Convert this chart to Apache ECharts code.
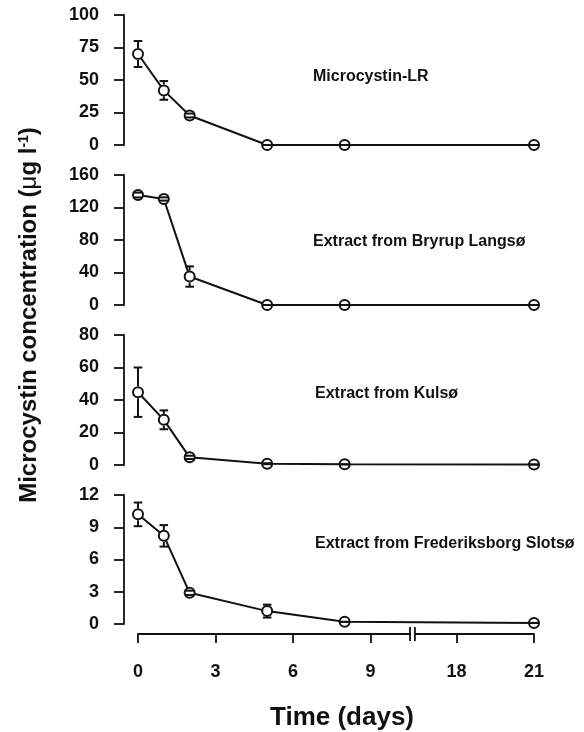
<!DOCTYPE html>
<html>
<head>
<meta charset="utf-8">
<script src="https://cdn.jsdelivr.net/npm/echarts@6.0.0/dist/echarts.min.js"></script>
<style>
  html, body { margin: 0; padding: 0; background: #fff; }
  #chart { width: 584px; height: 732px; }
</style>
</head>
<body>
<div id="chart"></div>
<script>
// sampling days
const days = [0, 1, 2, 5, 8, 21];
// tick labels of the time axis
const xTicks = [0, 3, 6, 9, 18, 21];
// the time axis is cut between these two days
const breakFrom = 10.53;
const breakTo = 16.39;
const breakGap = 0.19;

const panelNames = [
  'Microcystin-LR',
  'Extract from Bryrup Langsø',
  'Extract from Kulsø',
  'Extract from Frederiksborg Slotsø',
];

// means and error bars (µg l-1)
const mcLR = [70, 42, 22.7, 0, 0, 0];
const mcLRErr = [10, 7.2, 1.5, 0, 0, 0];
const bryrup = [135.4, 130.5, 35, 0, 0, 0];
const bryrupErr = [3, 2, 12.5, 0, 0, 0];
const kulso = [44.8, 27.8, 4.7, 0.8, 0.4, 0.3];
const kulsoErr = [15.2, 5.8, 1, 0.3, 0, 0];
const slotso = [10.2, 8.2, 2.9, 1.2, 0.2, 0.1];
const slotsoErr = [1.1, 1, 0.2, 0.6, 0, 0];

// y axis ticks
const yMax = [100, 160, 80, 12];
const yStep = [25, 40, 20, 3];

const values = [mcLR, bryrup, kulso, slotso];
const errors = [mcLRErr, bryrupErr, kulsoErr, slotsoErr];

// map a day onto the compressed (broken) axis
function pos(d) {
  return d <= breakFrom ? d : d - breakTo + breakFrom + breakGap;
}
const xMax = pos(21);

const ink = '#111';
const font = '"Liberation Sans", Arial, sans-serif';
const gridLeft = 138;
const gridWidth = 396;
const gridTops = [15, 175, 335, 495];
const gridHeight = 130;
const xOffset = 10;
const labelPos = [[313, 77], [313, 242], [315, 394], [315, 544]];

const chart = echarts.init(document.getElementById('chart'));

const option = {
  animation: false,
  backgroundColor: '#fff',
  grid: gridTops.map((top) => ({
    left: gridLeft,
    top,
    width: gridWidth,
    height: gridHeight,
  })),
  xAxis: gridTops.map((t, i) => {
    const last = i === gridTops.length - 1;
    return {
      type: 'value',
      gridIndex: i,
      min: 0,
      max: xMax,
      show: last,
      offset: xOffset,
      splitLine: { show: false },
      axisLine: { show: true, onZero: false, lineStyle: { color: ink, width: 1.8 } },
      axisTick: {
        show: true,
        length: 9,
        customValues: xTicks.map(pos),
        lineStyle: { color: ink, width: 1.8 },
      },
      axisLabel: {
        customValues: xTicks.map(pos),
        margin: 29,
        color: ink,
        fontFamily: font,
        fontWeight: 'bold',
        fontSize: 18,
        formatter(v) {
          const k = xTicks.findIndex((d) => Math.abs(pos(d) - v) < 1e-6);
          return k < 0 ? '' : String(xTicks[k]);
        },
      },
      name: last ? 'Time (days)' : '',
      nameLocation: 'middle',
      nameGap: 71,
      nameTextStyle: {
        color: ink,
        fontFamily: font,
        fontWeight: 'bold',
        fontSize: 26,
        padding: [0, 0, 0, 12],
      },
    };
  }),
  yAxis: gridTops.map((t, i) => ({
    type: 'value',
    gridIndex: i,
    min: 0,
    max: yMax[i],
    interval: yStep[i],
    offset: 14,
    splitLine: { show: false },
    axisLine: { show: true, onZero: false, lineStyle: { color: ink, width: 1.8 } },
    axisTick: { show: true, length: 10, lineStyle: { color: ink, width: 1.8 } },
    axisLabel: {
      margin: 25,
      color: ink,
      fontFamily: font,
      fontWeight: 'bold',
      fontSize: 18,
    },
  })),
  series: [],
  graphic: [],
};

values.forEach((vals, i) => {
  option.series.push({
    type: 'line',
    xAxisIndex: i,
    yAxisIndex: i,
    clip: false,
    z: 2,
    symbol: 'circle',
    symbolSize: 10,
    lineStyle: { color: ink, width: 2 },
    itemStyle: { color: '#fff', borderColor: ink, borderWidth: 2 },
    data: days.map((d, j) => [pos(d), vals[j]]),
  });
  option.series.push({
    type: 'custom',
    xAxisIndex: i,
    yAxisIndex: i,
    clip: false,
    z: 3,
    data: days.map((d, j) => [pos(d), vals[j], errors[i][j]]),
    renderItem(params, api) {
      const x = api.value(0);
      const y = api.value(1);
      const e = api.value(2);
      const c = api.coord([x, y]);
      const top = api.coord([x, y + e])[1];
      const bot = api.coord([x, y - e])[1];
      const r = 6;
      const cap = 4.3;
      const style = { stroke: ink, lineWidth: 2 };
      const kids = [];
      if (c[1] - top > r) {
        kids.push({ type: 'line', shape: { x1: c[0], y1: top, x2: c[0], y2: c[1] - r }, style });
      }
      if (bot - c[1] > r) {
        kids.push({ type: 'line', shape: { x1: c[0], y1: c[1] + r, x2: c[0], y2: bot }, style });
      }
      kids.push({ type: 'line', shape: { x1: c[0] - cap, y1: top, x2: c[0] + cap, y2: top }, style });
      kids.push({ type: 'line', shape: { x1: c[0] - cap, y1: bot, x2: c[0] + cap, y2: bot }, style });
      return { type: 'group', children: kids };
    },
  });
  option.graphic.push({
    id: 'label' + i,
    type: 'text',
    x: labelPos[i][0],
    y: labelPos[i][1],
    style: {
      text: panelNames[i],
      fill: ink,
      font: 'bold 16px ' + font,
      textVerticalAlign: 'middle',
    },
  });
});

option.graphic.push({
  id: 'ytitle',
  type: 'text',
  x: 29,
  y: 315,
  rotation: Math.PI / 2,
  style: {
    text: '{a|Microcystin concentration (}{m|μ}{a|g l}{s|-1}{a|)}',
    fill: ink,
    align: 'center',
    verticalAlign: 'middle',
    rich: {
      a: { fontFamily: font, fontWeight: 'bold', fontSize: 24, fill: ink },
      m: { fontFamily: font, fontSize: 24, fill: ink },
      s: { fontFamily: font, fontWeight: 'bold', fontSize: 14, fill: ink, verticalAlign: 'top' },
    },
  },
});

chart.setOption(option);

// break mark on the time axis
const axisY = chart.convertToPixel({ yAxisIndex: 3 }, 0) + xOffset;
const bx1 = chart.convertToPixel({ xAxisIndex: 3 }, breakFrom);
const bx2 = chart.convertToPixel({ xAxisIndex: 3 }, breakFrom + breakGap);
chart.setOption({
  graphic: [
    {
      id: 'breakGap',
      type: 'rect',
      z: 100,
      shape: { x: bx1 + 1, y: axisY - 3, width: bx2 - bx1 - 2, height: 6 },
      style: { fill: '#fff' },
    },
    {
      id: 'breakL',
      type: 'line',
      z: 101,
      shape: { x1: bx1, y1: axisY - 7, x2: bx1, y2: axisY + 7 },
      style: { stroke: ink, lineWidth: 1.8 },
    },
    {
      id: 'breakR',
      type: 'line',
      z: 101,
      shape: { x1: bx2, y1: axisY - 7, x2: bx2, y2: axisY + 7 },
      style: { stroke: ink, lineWidth: 1.8 },
    },
  ],
});
</script>
</body>
</html>
